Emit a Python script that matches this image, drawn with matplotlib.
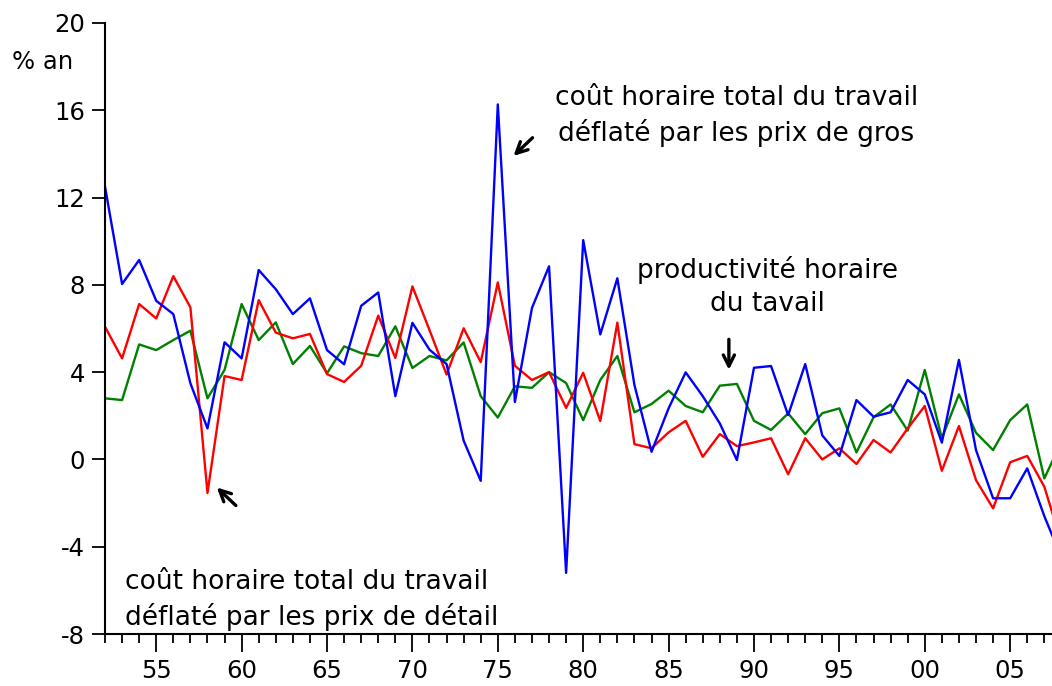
import numpy as np
import matplotlib.pyplot as plt
from matplotlib.ticker import MultipleLocator, FuncFormatter

annees = np.arange(1952, 2009)

# coût horaire total du travail déflaté par les prix de gros (bleu)
cout_gros = [12.5, 8.04, 9.14, 7.27, 6.66, 3.49, 1.42, 5.37, 4.63, 8.68,
             7.8, 6.66, 7.38, 5.01, 4.36, 7.04, 7.65, 2.9, 6.26, 5.03,
             4.37, 0.86, -0.98, 16.27, 2.63, 6.94, 8.85, -5.2, 10.05, 5.73,
             8.3, 3.41, 0.35, 2.34, 3.99, 2.9, 1.65, -0.03, 4.2, 4.28,
             2.03, 4.37, 1.1, 0.16, 2.72, 1.96, 2.16, 3.64, 2.98, 0.77,
             4.56, 0.43, -1.78, -1.78, -0.41, -2.6, -4.5]

# coût horaire total du travail déflaté par les prix de détail (rouge)
cout_detail = [6.08, 4.63, 7.12, 6.46, 8.4, 6.97, -1.54, 3.82, 3.64, 7.3,
               5.81, 5.55, 5.75, 3.91, 3.55, 4.29, 6.59, 4.65, 7.93, 5.93,
               3.89, 6.01, 4.46, 8.11, 4.29, 3.64, 4.0, 2.36, 3.97, 1.76,
               6.27, 0.7, 0.51, 1.24, 1.77, 0.12, 1.16, 0.61, 0.78, 0.97,
               -0.68, 0.97, 0.0, 0.51, -0.21, 0.89, 0.32, 1.42, 2.45, -0.52,
               1.53, -0.95, -2.24, -0.13, 0.16, -1.25, -3.8]

# productivité horaire du travail (vert)
productivite = [2.8, 2.72, 5.27, 5.01, 5.47, 5.9, 2.8, 4.1, 7.12, 5.47,
                6.28, 4.37, 5.2, 3.95, 5.18, 4.87, 4.74, 6.1, 4.19, 4.74,
                4.54, 5.36, 2.9, 1.92, 3.35, 3.28, 4.0, 3.5, 1.8, 3.64,
                4.74, 2.16, 2.54, 3.15, 2.45, 2.16, 3.38, 3.46, 1.77, 1.35,
                2.11, 1.16, 2.12, 2.34, 0.32, 1.93, 2.52, 1.32, 4.1, 0.97,
                2.98, 1.22, 0.43, 1.8, 2.52, -0.87, 0.8]

plt.rcParams['font.family'] = 'DejaVu Sans'
plt.rcParams['axes.unicode_minus'] = False

fig = plt.figure(figsize=(10.52, 6.86), dpi=100)
ax = fig.add_axes([105 / 1052, 1 - 634 / 686, 1 - 105 / 1052, 611 / 686])

ax.plot(annees, productivite, color='#008000', lw=1.7)
ax.plot(annees, cout_detail, color='#ff0000', lw=1.7)
ax.plot(annees, cout_gros, color='#0000ff', lw=1.7)

ax.set_xlim(1952, 2007.45)
ax.set_ylim(-8, 20)
ax.set_yticks(np.arange(-8, 21, 4))
ax.xaxis.set_major_locator(MultipleLocator(5))
ax.xaxis.set_minor_locator(MultipleLocator(1))
ax.xaxis.set_major_formatter(FuncFormatter(lambda v, p: f"{int(round(v)) % 100:02d}"))

for s in ['top', 'right']:
    ax.spines[s].set_visible(False)
for s in ['left', 'bottom']:
    ax.spines[s].set_linewidth(1.5)

ax.tick_params(axis='y', direction='out', length=9.5, width=1.3, pad=5, labelsize=17.5)
ax.tick_params(axis='x', which='major', direction='out', length=13, width=1.3, pad=5, labelsize=17.5)
ax.tick_params(axis='x', which='minor', direction='out', length=6.5, width=1.3)

fig.text(12 / 1052, 1 - 62 / 686, '% an', fontsize=17.5, va='center', ha='left')

txt = dict(fontsize=19, linespacing=1.35)
ax.text(1988.96, 15.74, "coût horaire total du travail\ndéflaté par les prix de gros",
        ha='center', va='center', **txt)
ax.text(1990.77, 7.94, "productivité horaire\ndu tavail", ha='center', va='center', **txt)
ax.text(1953.17, -6.45, "coût horaire total du travail\ndéflaté par les prix de détail",
        ha='left', va='center', **txt)

fleche = dict(arrowstyle='->', lw=2.4, color='black', mutation_scale=20)
ax.annotate('', xy=(1975.8, 13.82), xytext=(1977.15, 14.83), arrowprops=fleche)
ax.annotate('', xy=(1988.53, 3.98), xytext=(1988.53, 5.63), arrowprops=fleche)
ax.annotate('', xy=(1958.43, -1.2), xytext=(1959.78, -2.2), arrowprops=fleche)

fig.savefig('out.png', dpi=100)
